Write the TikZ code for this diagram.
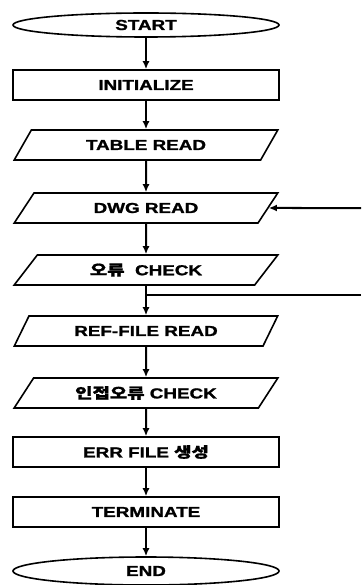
\documentclass[tikz,border=0pt]{standalone}
\usepackage{graphicx}
\usepackage{fontspec}
\setmainfont{Liberation Sans}[BoldFeatures={FakeBold=1.2}]
\newfontfamily\kr{Noto Sans CJK KR}[BoldFeatures={FakeBold=1.2}]
\usetikzlibrary{shapes.geometric,arrows.meta}
\newcommand{\lbl}[1]{\scalebox{1.3}[1]{#1}}
\begin{document}
\begin{tikzpicture}[x=1pt,y=-1pt,
  base/.style={draw, line width=1.6pt, font=\fontsize{14.5}{15}\selectfont\bfseries, inner sep=0pt},
  term/.style={base, ellipse, minimum width=266pt, minimum height=24pt},
  proc/.style={base, rectangle, minimum width=266pt, minimum height=30pt},
  io/.style={base, trapezium, trapezium left angle=48, trapezium right angle=132, trapezium stretches=true, minimum width=264pt, minimum height=30pt},
  conn/.style={line width=2pt},
  flow/.style={conn, -{Latex[length=8pt,width=7pt]}}]
\useasboundingbox (0,0) rectangle (361,585);
\node[term] (start) at (146,25) {\lbl{START}};
\node[proc] (init) at (146,85) {\lbl{INITIALIZE}};
\node[io] (table) at (146,145) {\lbl{TABLE READ}};
\node[io] (dwg) at (146,208) {\lbl{DWG READ}};
\node[io] (chk) at (146,270) {\lbl{{\kr 오류}\ \ CHECK}};
\node[io] (ref) at (146,331) {\lbl{REF-FILE READ}};
\node[io] (adj) at (146,393) {\lbl{{\kr 인접오류}\ CHECK}};
\node[proc] (err) at (146,452) {\lbl{ERR FILE {\kr 생성}}};
\node[proc] (term) at (146,512) {\lbl{TERMINATE}};
\node[term, minimum height=28pt] (end) at (146,571) {\lbl{END}};
\coordinate (r1) at (361,208);
\coordinate (j) at (146,295);
\coordinate (r2) at (361,295);
\draw[flow] (start) -- (init);
\draw[flow] (init) -- (table);
\draw[flow] (table) -- (dwg);
\draw[flow] (r1) -- (dwg.east);
\draw[flow] (dwg) -- (chk);
\draw[conn] (chk) -- (j);
\draw[conn] (r2) -- (j);
\draw[flow] (j) -- (ref);
\draw[flow] (ref) -- (adj);
\draw[flow] (adj) -- (err);
\draw[flow] (err) -- (term);
\draw[flow] (term) -- (end);
\end{tikzpicture}
\end{document}
